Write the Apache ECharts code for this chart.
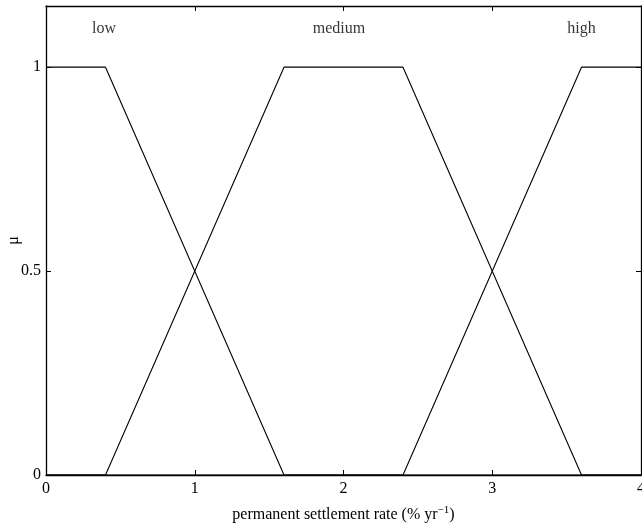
<!DOCTYPE html>
<html>
<head>
<meta charset="utf-8">
<script src="https://cdn.jsdelivr.net/npm/echarts@6/dist/echarts.min.js"></script>
<style>
  html, body { margin: 0; padding: 0; background: #fff; }
  #chart { width: 642px; height: 526px; }
</style>
</head>
<body>
<div id="chart"></div>
<script>
// Fuzzy membership functions for permanent settlement rate (% per year)
const lowX = [0, 0.4, 1.6, 4];
const lowY = [1, 1, 0, 0];
const mediumX = [0, 0.4, 1.6, 2.4, 3.6, 4];
const mediumY = [0, 0, 1, 1, 0, 0];
const highX = [0, 2.4, 3.6, 4];
const highY = [0, 0, 1, 1];

// Set names and where their labels sit
const setNames = ['low', 'medium', 'high'];
const setLabelX = [0.39, 1.97, 3.6];
const setLabelY = [1.093, 1.093, 1.093];

const xTicks = [0, 1, 2, 3, 4];
const yTicks = [0, 0.5, 1];

const font = 'Liberation Serif';
const pairs = (xs, ys) => xs.map((x, i) => [x, ys[i]]);

const lineSeries = (name, xs, ys) => ({
  name: name,
  type: 'line',
  data: pairs(xs, ys),
  showSymbol: false,
  symbol: 'none',
  lineStyle: { color: '#000', width: 1.1 },
  silent: true,
  z: 3
});

const chart = echarts.init(document.getElementById('chart'), null, { renderer: 'canvas' });

const baseAxis = {
  axisLine: { show: true, onZero: false, lineStyle: { color: '#000', width: 1.3 } },
  axisTick: { show: true, inside: true, length: 5, lineStyle: { color: '#000', width: 1 } },
  splitLine: { show: false }
};

chart.setOption({
  animation: false,
  backgroundColor: '#fff',
  grid: { left: 46, right: 1, top: 6, bottom: 51, containLabel: false, outerBoundsMode: 'none' },
  xAxis: [
    Object.assign({}, baseAxis, {
      type: 'value', min: 0, max: 4, interval: 1, position: 'bottom',
      name: '{t|permanent settlement rate (% yr}{s|−1}{t|)}',
      nameLocation: 'middle', nameGap: 30, nameMoveOverlap: false,
      nameTextStyle: {
        rich: {
          t: { fontFamily: font, fontSize: 16, color: '#000' },
          s: { fontFamily: font, fontSize: 11, color: '#000', verticalAlign: 'top', padding: [0, 0, 8, 0] }
        }
      },
      axisLabel: {
        fontFamily: font, fontSize: 16, color: '#000', margin: 6,
        formatter: v => xTicks.indexOf(v) >= 0 ? String(v) : ''
      }
    }),
    Object.assign({}, baseAxis, {
      type: 'value', min: 0, max: 4, interval: 1, position: 'top',
      axisLabel: { show: false }
    })
  ],
  yAxis: [
    Object.assign({}, baseAxis, {
      type: 'value', min: 0, max: 1.15, interval: 0.5, position: 'left',
      name: 'μ', nameLocation: 'middle', nameGap: 24, nameRotate: 90, nameMoveOverlap: false,
      nameTextStyle: { fontFamily: font, fontSize: 16, color: '#000' },
      axisLabel: {
        fontFamily: font, fontSize: 16, color: '#000', margin: 5,
        formatter: v => yTicks.indexOf(v) >= 0 ? String(v) : ''
      }
    }),
    Object.assign({}, baseAxis, {
      type: 'value', min: 0, max: 1.15, interval: 0.5, position: 'right',
      axisLabel: { show: false }
    })
  ],
  series: [
    lineSeries('low', lowX, lowY),
    lineSeries('medium', mediumX, mediumY),
    lineSeries('high', highX, highY),
    {
      type: 'scatter',
      symbolSize: 0,
      silent: true,
      data: setNames.map((n, i) => ({ value: [setLabelX[i], setLabelY[i]], name: n })),
      label: {
        show: true, position: 'inside', formatter: p => p.name,
        fontFamily: font, fontSize: 16, color: '#000'
      }
    }
  ]
});
</script>
</body>
</html>
